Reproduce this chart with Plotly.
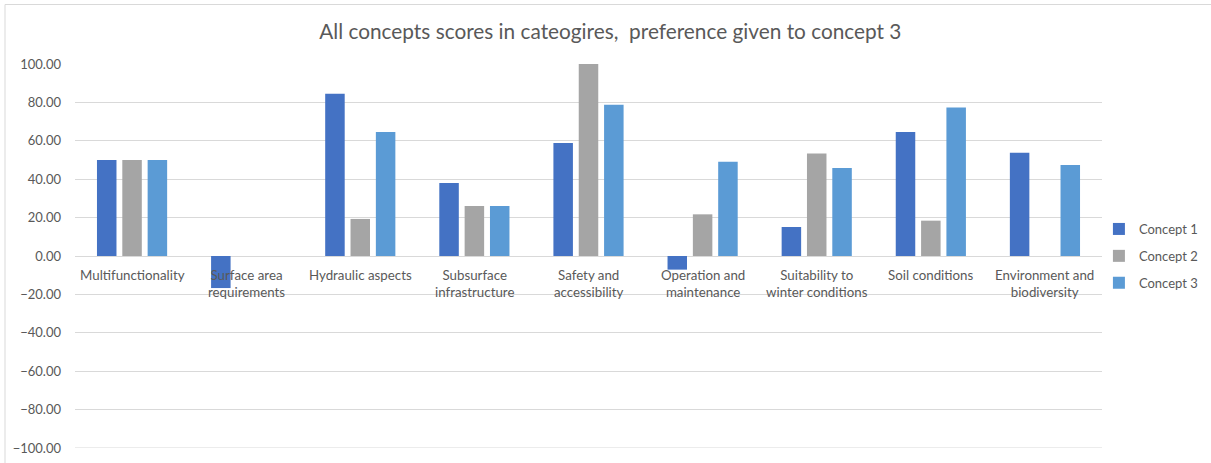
import plotly.graph_objects as go

# Category scores per concept
categories = [
    "Multifunctionality",
    "Surface area<br>requirements",
    "Hydraulic aspects",
    "Subsurface<br>infrastructure",
    "Safety and<br>accessibility",
    "Operation and<br>maintenance",
    "Suitability to<br>winter conditions",
    "Soil conditions",
    "Environment and<br>biodiversity",
]
concept_1 = [50.0, -16.7, 84.5, 38.0, 58.9, -7.1, 15.1, 64.6, 53.8]
concept_2 = [50.0, 0.0, 19.3, 26.0, 100.0, 21.7, 53.4, 18.4, 0.0]
concept_3 = [50.0, 0.0, 64.6, 26.0, 78.8, 49.1, 45.8, 77.4, 47.4]
series_names = ["Concept 1", "Concept 2", "Concept 3"]
y_ticks = [-100, -80, -60, -40, -20, 0, 20, 40, 60, 80, 100]

colors = ["#4472C4", "#A5A5A5", "#5B9BD5"]
font_family = "Lato, 'Open Sans', sans-serif"
text_color = "#595959"
grid_color = "#D9D9D9"

x_idx = list(range(len(categories)))

fig = go.Figure()
for i, (name, vals) in enumerate(zip(series_names, [concept_1, concept_2, concept_3])):
    fig.add_trace(go.Bar(
        x=x_idx, y=vals, name=name,
        marker=dict(color=colors[i], line=dict(width=0)),
        legendgroup=name,
    ))

# Category labels sit just under the zero line
for xi, label in zip(x_idx, categories):
    fig.add_annotation(
        x=xi, y=0, xref="x", yref="y", text=label, showarrow=False,
        yanchor="top", yshift=-9, align="center",
        font=dict(family=font_family, size=13.3, color=text_color),
    )

# Bottom gridline at the lower end of the axis range
fig.add_shape(
    type="line", xref="paper", yref="y", x0=0, x1=1, y0=y_ticks[0], y1=y_ticks[0],
    line=dict(color=grid_color, width=1), layer="below",
)

# Chart area border
fig.add_shape(
    type="rect", xref="paper", yref="paper",
    x0=(5 - 75) / 1027, x1=1.2, y0=-0.2, y1=(448 - 4.5) / 384,
    line=dict(color=grid_color, width=1), fillcolor="rgba(0,0,0,0)", layer="below",
)

fig.update_layout(
    width=1211, height=463,
    margin=dict(l=75, r=109, t=64, b=15, autoexpand=False),
    paper_bgcolor="white", plot_bgcolor="white",
    barmode="group", bargap=0.334, bargroupgap=0.23,
    title=dict(
        text="All concepts scores in cateogires,  preference given to concept 3",
        x=0.504, xanchor="center", y=1 - 32 / 463, yanchor="middle",
        font=dict(family=font_family, size=20.8, color=text_color),
    ),
    xaxis=dict(
        range=[-0.5, len(categories) - 0.5],
        showticklabels=False, showgrid=False, zeroline=False, showline=False,
        fixedrange=True,
    ),
    yaxis=dict(
        range=[-100, 100], tickvals=y_ticks, tickformat=".2f",
        showgrid=True, gridcolor=grid_color, gridwidth=1,
        zeroline=True, zerolinecolor=grid_color, zerolinewidth=1,
        showline=False, ticks="", ticklabelstandoff=13,
        tickfont=dict(family=font_family, size=13, color=text_color),
    ),
    legend=dict(
        x=0.997, xanchor="left", y=0.5, yanchor="middle",
        font=dict(family=font_family, size=13, color=text_color),
        tracegroupgap=7, bgcolor="rgba(0,0,0,0)",
    ),
    showlegend=True,
)

fig.write_html("out.html")
